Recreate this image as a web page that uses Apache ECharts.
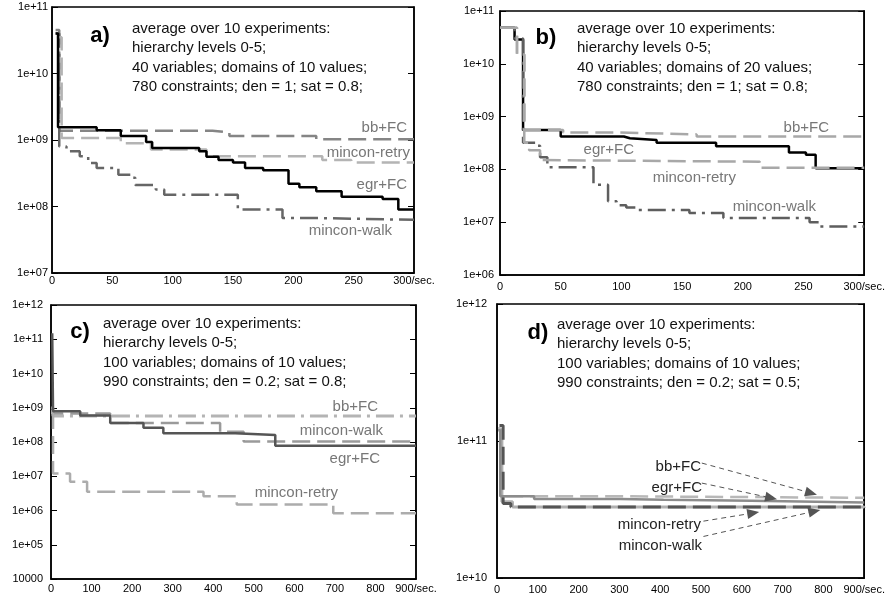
<!DOCTYPE html>
<html><head><meta charset="utf-8">
<script src="https://cdn.jsdelivr.net/npm/echarts@6/dist/echarts.min.js"></script>
<style>html,body{margin:0;padding:0;background:#fff}#c{width:888px;height:603px}</style>
</head><body><div id="c"></div>
<script>
// ---- data: [time in sec, value] ----
const a_egr = [[3,4e10],[5,1.55e9],[37,1.4e9],[57,1.15e9],[78,9.3e8],[83,7.6e8],[122,6.8e8],[128,5.6e8],[138,5e8],[150,4.6e8],[160,3.8e8],[175,3.5e8],[196,2.2e8],[205,1.95e8],[219,1.7e8],[240,1.4e8],[274,1.3e8],[287,9e7],[300,9e7]];
const a_bb = [[3,4.5e10],[6,1.38e9],[133,1.3e9],[147,1.15e9],[219,1.03e9],[300,1.03e9]];
const a_retry = [[4,3.5e10],[8,1.07e9],[57,8.9e8],[82,7.2e8],[128,5.7e8],[224,5e8],[248,4.6e8],[300,4.6e8]];
const a_walk = [[3,4e10],[6,8e8],[12,6.8e8],[23,5.7e8],[30,4.5e8],[37,3.8e8],[55,3e8],[66,2.7e8],[69,2.1e8],[86,1.8e8],[93,1.5e8],[154,9e7],[191,6.7e7],[222,6.3e7],[300,6.3e7]];

const b_egr = [[0,4.8e10],[12,2.9e10],[19,5.6e8],[50,4.2e8],[102,3.9e8],[107,3.6e8],[129,3.2e8],[178,2.75e8],[238,2.1e8],[252,1.9e8],[260,1.05e8],[300,1.05e8]];
const b_bb = [[0,4.8e10],[14,1.5e10],[20,5.6e8],[52,5e8],[96,4.6e8],[162,4.2e8],[300,4.2e8]];
const b_retry = [[0,4.8e10],[14,1.5e10],[20,3.2e8],[24,2.3e8],[33,1.5e8],[36,1.4e8],[214,1.07e8],[300,1.07e8]];
const b_walk = [[0,4.8e10],[12,3e10],[19,3.2e8],[29,2.8e8],[33,1.7e8],[39,1.1e8],[77,5.1e7],[89,2.5e7],[96,2.1e7],[104,1.9e7],[113,1.7e7],[156,1.5e7],[184,1.2e7],[255,1.0e7],[263,8.3e6],[300,8.3e6]];

const c_egr = [[3,1.5e11],[5,7.9e8],[72,5.9e8],[146,3.6e8],[228,2.6e8],[277,1.8e8],[454,1.6e8],[553,7.8e7],[900,7.8e7]];
const c_bb = [[0,8e8],[5,5.7e8],[900,5.7e8]];
const c_walk = [[0,1e9],[5,6.8e8],[146,3.6e8],[417,2e8],[475,1.03e8],[900,1.03e8]];
const c_retry = [[0,7e8],[5,1.2e7],[47,6.9e6],[89,3.5e6],[376,2.6e6],[458,1.5e6],[696,8.3e5],[900,8.3e5]];

const d_bb = [[3,1.24e11],[8,3.95e10],[300,3.85e10],[900,3.85e10]];
const d_egr = [[3,1.2e11],[8,3.95e10],[91,3.78e10],[302,3.72e10],[408,3.66e10],[623,3.55e10],[900,3.55e10]];
const d_walk = [[5,1.2e11],[12,3.6e10],[38,3.3e10],[900,3.25e10]];
const d_retry = [[6,1.3e11],[15,3.5e10],[34,3.3e10],[900,3.3e10]];
const d_arrows = [[[502,6.9e10],[770,4.17e10]],[[502,4.93e10],[672,3.84e10]],[[506,2.6e10],[628,2.98e10]],[[506,2.01e10],[778,3.07e10]]];

// ---- axis settings ----
const xMax = [300,300,900,900];
const xInterval = [50,50,100,100];
const yMin = [1e7,1e6,1e4,1e10];
const yMax = [1e11,1e11,1e12,1e12];
const ySplit = [4,5,8,2];

const FONT = '"Liberation Sans", Arial, sans-serif';
const grids = [
  {left:52, right:474, top:7, bottom:330},
  {left:500, right:22, top:11, bottom:328},
  {left:51, right:472, top:305, bottom:24},
  {left:497, right:22, top:304, bottom:25}
];
const xLabelMargin = [2,6,4,6];
const yLabelMargin = [4,6,8,10];

const chart = echarts.init(document.getElementById('c'));
const xAxis = [], yAxis = [];
grids.forEach((g,i)=>{
  xAxis.push({type:'value', gridIndex:i, min:0, max:xMax[i], interval:xInterval[i],
    axisLine:{show:true,lineStyle:{color:'#000',width:1.5}}, axisTick:{show:false}, splitLine:{show:false},
    axisLabel:{fontFamily:FONT,fontSize:11,color:'#000',margin:xLabelMargin[i],
      formatter:(v)=> v===xMax[i] ? v+'/sec.' : String(v)}});
  const fmt = (v)=>{ const e=Math.round(Math.log10(v)); return v<=1e4 ? String(Math.round(v)) : '1e+'+(e<10?'0'+e:e); };
  yAxis.push({type:'log', logBase:10, gridIndex:i, min:yMin[i], max:yMax[i], splitNumber:ySplit[i], position:'left',
    axisLine:{show:true,lineStyle:{color:'#000',width:1.5}}, axisTick:{show:true,inside:true,length:6,lineStyle:{color:'#000'}},
    splitLine:{show:false}, axisLabel:{fontFamily:FONT,fontSize:11,color:'#000',margin:yLabelMargin[i],formatter:fmt}});
  yAxis.push({type:'log', logBase:10, gridIndex:i, min:yMin[i], max:yMax[i], splitNumber:ySplit[i], position:'right',
    axisLine:{show:true,lineStyle:{color:'#000',width:1.5}}, axisTick:{show:true,inside:true,length:6,lineStyle:{color:'#000'}},
    splitLine:{show:false}, axisLabel:{show:false}});
});

const DASH=[18,7], DASHDOT=[18,6,3,6];
function S(gi,name,data,color,type,width,z){
  return {type:'line', name, xAxisIndex:gi, yAxisIndex:gi*2, data, step:'end', showSymbol:false, symbol:'none',
    lineStyle:{color, type, width}, z:z||2, animation:false, silent:true};
}
const series = [
  S(0,'bb+FC',a_bb,'#858585',DASH,2.5,2),
  S(0,'mincon-retry',a_retry,'#b4b4b4',DASH,2.5,3),
  S(0,'mincon-walk',a_walk,'#666666',DASHDOT,2.5,2),
  S(0,'egr+FC',a_egr,'#000000','solid',2.5,4),
  S(1,'bb+FC',b_bb,'#a8a8a8',DASH,2.5,3),
  S(1,'egr+FC',b_egr,'#000000','solid',2.5,2),
  S(1,'mincon-retry',b_retry,'#a8a8a8',DASH,2.5,3),
  S(1,'mincon-walk',b_walk,'#5e5e5e',DASHDOT,2.5,2),
  S(2,'bb+FC',c_bb,'#b4b4b4',DASHDOT,3,2),
  S(2,'mincon-walk',c_walk,'#9a9a9a',DASH,2.5,3),
  S(2,'egr+FC',c_egr,'#555555','solid',2.5,4),
  S(2,'mincon-retry',c_retry,'#acacac',DASH,2.5,3),
  S(3,'bb+FC',d_bb,'#b8b8b8',DASH,2.5,3),
  S(3,'egr+FC',d_egr,'#8c8c8c','solid',2.5,4),
  S(3,'mincon-walk',d_walk,'#b0b0b0','solid',3,2),
  S(3,'mincon-retry',d_retry,'#555555',DASH,3,3)
];
series[series.length-1].markLine = {silent:true, symbol:['none','triangle'], symbolSize:[10,12], animation:false,
  label:{show:false}, lineStyle:{color:'#555',type:[5,4],width:1},
  data: d_arrows.map(p=>[{coord:p[0]},{coord:p[1]}])};

const annot = [
  'average over 10 experiments:\nhierarchy levels 0-5;\n40 variables; domains of 10 values;\n780 constraints; den = 1; sat = 0.8;',
  'average over 10 experiments:\nhierarchy levels 0-5;\n40 variables; domains of 20 values;\n780 constraints; den = 1; sat = 0.8;',
  'average over 10 experiments:\nhierarchy levels 0-5;\n100 variables; domains of 10 values;\n990 constraints; den = 0.2; sat = 0.8;',
  'average over 10 experiments:\nhierarchy levels 0-5;\n100 variables; domains of 10 values;\n990 constraints; den = 0.2; sat = 0.5;'
];
const annotPos = [[132,19],[577,19],[103,314],[557,315]];
const panelLab = [['a)',100,36],['b)',546,38],['c)',80,332],['d)',538,333]];
const seriesLab = [
  ['bb+FC',407,128,'#777'],['mincon-retry',410,153,'#777'],['egr+FC',407,185,'#777'],['mincon-walk',392,231,'#777'],
  ['bb+FC',829,128,'#777'],['egr+FC',634,150,'#777'],['mincon-retry',736,178,'#777'],['mincon-walk',816,207,'#777'],
  ['bb+FC',378,407,'#777'],['mincon-walk',383,431,'#777'],['egr+FC',380,459,'#777'],['mincon-retry',338,493,'#777'],
  ['bb+FC',701,467,'#222'],['egr+FC',702,488,'#222'],['mincon-retry',701,525,'#222'],['mincon-walk',702,546,'#222']
];
const graphic = [];
annot.forEach((t,i)=>graphic.push({type:'text', x:annotPos[i][0], y:annotPos[i][1], z:10,
  style:{text:t, font:'15px '+FONT, fill:'#111', lineHeight:19.5, textAlign:'left', textVerticalAlign:'top'}}));
panelLab.forEach(p=>graphic.push({type:'text', x:p[1], y:p[2], z:10,
  style:{text:p[0], font:'bold 22px '+FONT, fill:'#000', textAlign:'center', textVerticalAlign:'middle'}}));
seriesLab.forEach(p=>graphic.push({type:'text', x:p[1], y:p[2], z:10,
  style:{text:p[0], font:'15px '+FONT, fill:p[3], textAlign:'right', textVerticalAlign:'middle'}}));

chart.setOption({
  animation:false,
  grid: grids.map(g=>Object.assign({show:true,borderColor:'#000',borderWidth:1.5,backgroundColor:'#fff'},g)),
  xAxis, yAxis, series, graphic
});
</script></body></html>
